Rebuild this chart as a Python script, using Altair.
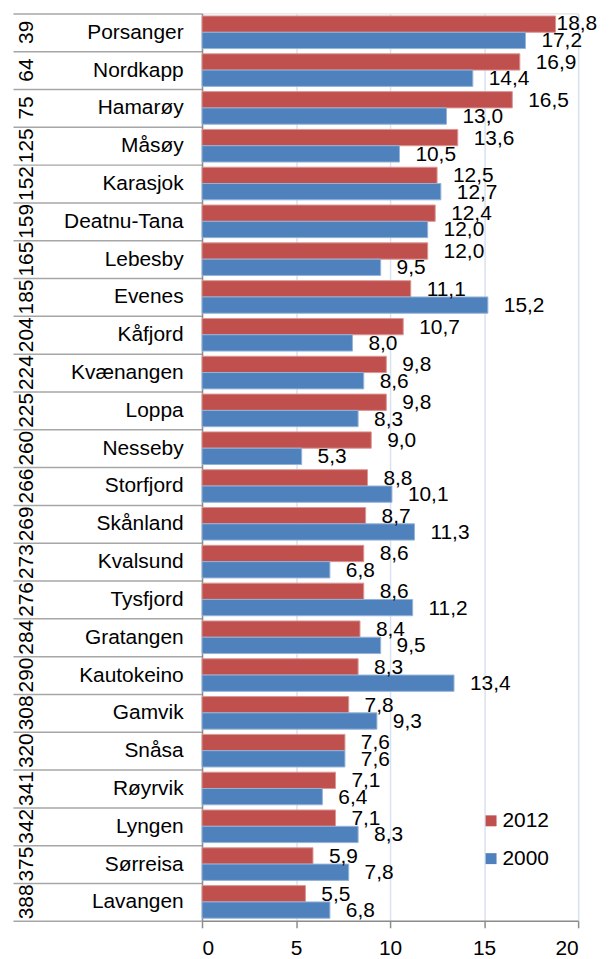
import altair as alt
import pandas as pd

ranks = [39, 64, 75, 125, 152, 159, 165, 185, 204, 224, 225, 260,
         266, 269, 273, 276, 284, 290, 308, 320, 341, 342, 375, 388]
names = ["Porsanger", "Nordkapp", "Hamarøy", "Måsøy", "Karasjok", "Deatnu-Tana",
         "Lebesby", "Evenes", "Kåfjord", "Kvænangen", "Loppa", "Nesseby",
         "Storfjord", "Skånland", "Kvalsund", "Tysfjord", "Gratangen", "Kautokeino",
         "Gamvik", "Snåsa", "Røyrvik", "Lyngen", "Sørreisa", "Lavangen"]
v2012 = [18.8, 16.9, 16.5, 13.6, 12.5, 12.4, 12.0, 11.1, 10.7, 9.8, 9.8, 9.0,
         8.8, 8.7, 8.6, 8.6, 8.4, 8.3, 7.8, 7.6, 7.1, 7.1, 5.9, 5.5]
v2000 = [17.2, 14.4, 13.0, 10.5, 12.7, 12.0, 9.5, 15.2, 8.0, 8.6, 8.3, 5.3,
         10.1, 11.3, 6.8, 11.2, 9.5, 13.4, 9.3, 7.6, 6.4, 8.3, 7.8, 6.8]
series = ["2012", "2000"]
colors = ["#C0504D", "#4F81BD"]
edge_colors = ["#D99795", "#95B3D7"]
ticks_x = [0, 5, 10, 15, 20]

rows = []
for r, n, a, b in zip(ranks, names, v2012, v2000):
    rows.append({"rank": str(r), "name": n, "series": "2012", "value": a})
    rows.append({"rank": str(r), "name": n, "series": "2000", "value": b})
df = pd.DataFrame(rows)
rank_df = pd.DataFrame({"rank": [str(r) for r in ranks], "name": names})

FONT = "Liberation Sans"
FS = 21

y_axis = alt.Axis(
    title=None, orient="left", grid=False,
    domainColor="#8C8C8C", domainWidth=1.5,
    tickBand="extent", tickSize=190, tickColor="#A6A6A6", tickWidth=1.5,
    labelPadding=-171, labelFontSize=FS, labelFont=FONT, labelColor="black",
    labelAlign="right", labelBaseline="middle",
)
x_axis = alt.Axis(
    title=None, values=ticks_x, grid=True, gridColor="#D9E2F0", gridWidth=1.5,
    domainColor="#8C8C8C", domainWidth=1.5, tickColor="#8C8C8C", tickSize=7,
    tickWidth=1.5, labelFontSize=FS, labelFont=FONT, labelColor="black",
    labelPadding=10,
)
x_enc = alt.X("value:Q", scale=alt.Scale(domain=[0, 20], nice=False), axis=x_axis)
y_scale = alt.Scale(domain=names, paddingInner=0, paddingOuter=0)
y_enc = alt.Y("name:N", sort=names, scale=y_scale, axis=y_axis)
yoff = alt.YOffset("series:N", scale=alt.Scale(domain=series, paddingOuter=0.16, paddingInner=0))

bars = alt.Chart(df).mark_bar(strokeWidth=1).encode(
    x=x_enc,
    y=y_enc,
    yOffset=yoff,
    color=alt.Color(
        "series:N",
        scale=alt.Scale(domain=series, range=colors),
        legend=alt.Legend(
            title=None, orient="none", legendX=280, legendY=801,
            symbolType="square", symbolSize=121, symbolStrokeWidth=0,
            symbolOpacity=1, labelFontSize=FS, labelFont=FONT,
            labelColor="black", labelOffset=1, rowPadding=16, padding=0,
        ),
    ),
    stroke=alt.Stroke("series:N", scale=alt.Scale(domain=series, range=edge_colors), legend=None),
)

lab_calc = "replace(format(datum.value, '.1f'), '.', ',')"

labels = alt.Chart(df).transform_filter("datum.value < 18.5").transform_calculate(
    label=lab_calc
).mark_text(align="left", baseline="middle", dx=16, dy=1, fontSize=FS,
            font=FONT, color="black").encode(
    x=x_enc,
    y=y_enc,
    yOffset=yoff,
    text="label:N",
)

labels_top = alt.Chart(df).transform_filter("datum.value >= 18.5").transform_calculate(
    label=lab_calc
).mark_text(align="left", baseline="middle", dx=1, dy=0, fontSize=FS,
            font=FONT, color="black").encode(
    x=x_enc,
    y=y_enc,
    yOffset=yoff,
    text="label:N",
)

rank_text = alt.Chart(rank_df).mark_text(
    angle=270, align="center", baseline="middle", fontSize=FS, font=FONT, color="black"
).encode(
    x=alt.value(-176),
    y=y_enc,
    text="rank:N",
)

chart = alt.layer(bars, labels, labels_top, rank_text).properties(
    width=378, height=912,
    autosize=alt.AutoSizeParams(type="none"),
    padding={"left": 195, "top": 3, "right": 26, "bottom": 45},
).configure_view(stroke=None).configure(background="white")

chart.save("out.html", embed_options={"renderer": "svg", "actions": False})
